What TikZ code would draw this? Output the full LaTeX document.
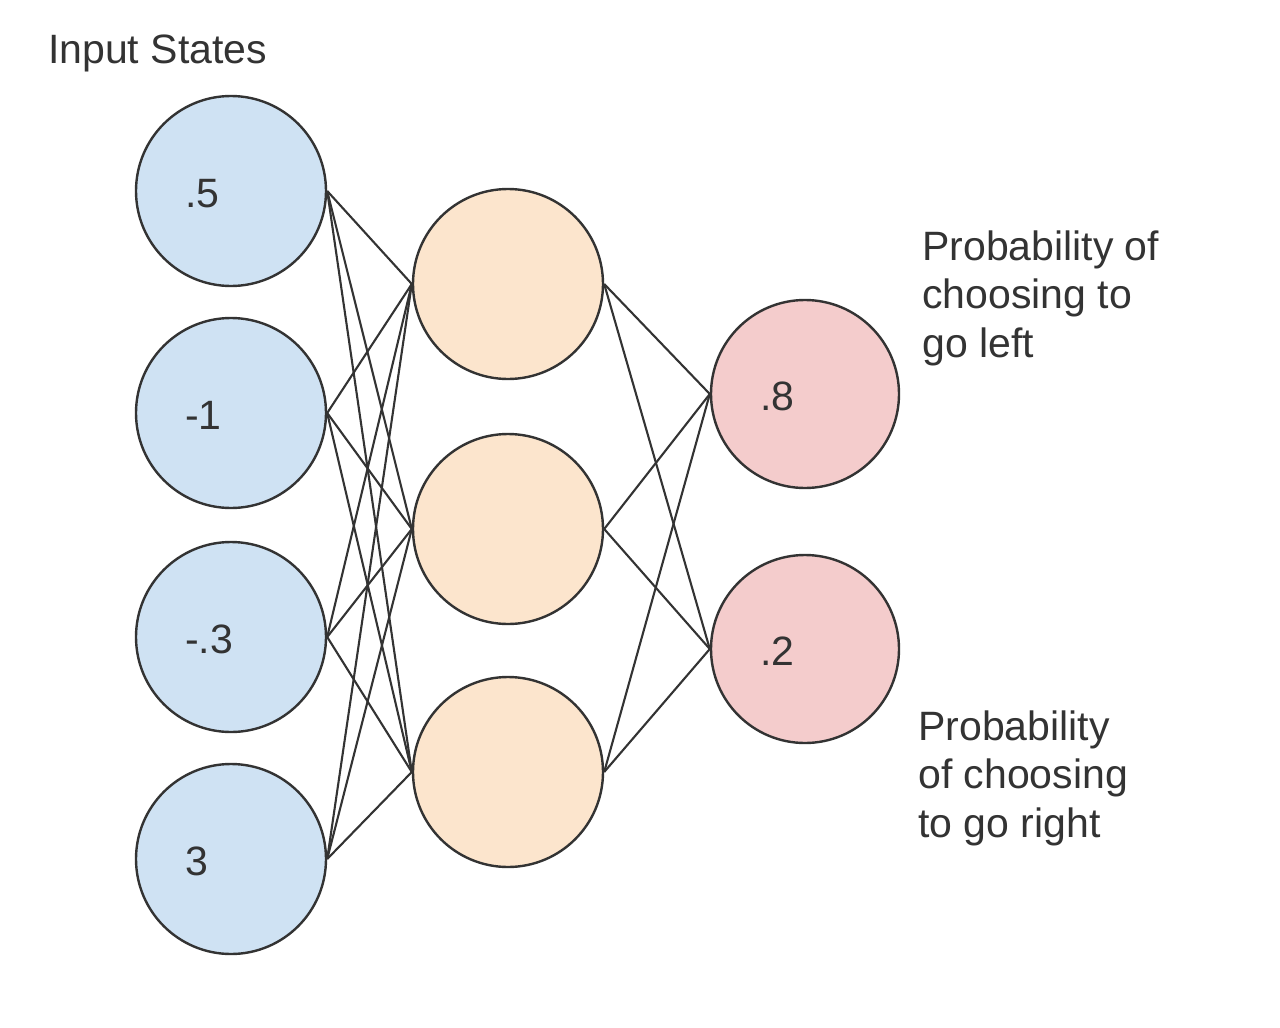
\documentclass[tikz,border=0pt]{standalone}
\usepackage{fontspec}
\setmainfont{Liberation Sans}
\usepackage{xcolor}
\usepackage{tikz}
\usetikzlibrary{positioning,calc}
\definecolor{inblue}{HTML}{CFE2F3}
\definecolor{hidorange}{HTML}{FCE5CD}
\definecolor{outred}{HTML}{F4CCCC}
\definecolor{ink}{HTML}{333333}

\begin{document}
\begin{tikzpicture}[x=1pt,y=-1pt,
        neuron/.style = {circle,draw=ink,line width=2.4pt,minimum size=190pt,inner sep=0pt},
        edge/.style = {draw=ink,line width=2.1pt},
        num/.style = {anchor=base west,inner sep=0pt,text=ink,font=\fontsize{41}{48.5}\selectfont},
        caption/.style = {anchor=base west,align=left,inner sep=0pt,text=ink,font=\fontsize{41}{48.5}\selectfont}
        ]
        \useasboundingbox (0,0) rectangle (1280,1028);

        %Eingabe
        \foreach \y [count=\i] in {191,413,637,859}
            \node[neuron,fill=inblue] (i\i) at (231,\y) {};
        \node[caption] (title) at (48,63) {Input States};

        %Versteckt
        \foreach \y [count=\j] in {284,529,772}
            \node[neuron,fill=hidorange] (h\j) at (508,\y) {};

        %Ausgabe
        \node[neuron,fill=outred,minimum size=188pt] (o1) at (805,394) {};
        \node[neuron,fill=outred,minimum size=188pt] (o2) at (805,649) {};

        %Verbindungen
        \foreach \i in {1,...,4}
            \foreach \j in {1,2,3}
                \draw[edge] (i\i.east) -- (h\j.west);
        \foreach \j in {1,2,3}
            \foreach \k in {1,2}
                \draw[edge] (h\j.east) -- (o\k.west);

        %Werte
        \node[num] (v1) at ([shift={(-46,16)}]i1.center) {.5};
        \node[num] (v2) at ([shift={(-46,16)}]i2.center) {-1};
        \node[num] (v3) at ([shift={(-46,16)}]i3.center) {-.3};
        \node[num] (v4) at ([shift={(-46,16)}]i4.center) {3};
        \node[num] (p1) at ([shift={(-45,16)}]o1.center) {.8};
        \node[num] (p2) at ([shift={(-45,16)}]o2.center) {.2};

        %Beschriftung
        \node[caption] (left) at (922,357) {Probability of\\choosing to\\go left};
        \node[caption] (right) at (918,837) {Probability\\of choosing\\to go right};

    \end{tikzpicture}
\end{document}
